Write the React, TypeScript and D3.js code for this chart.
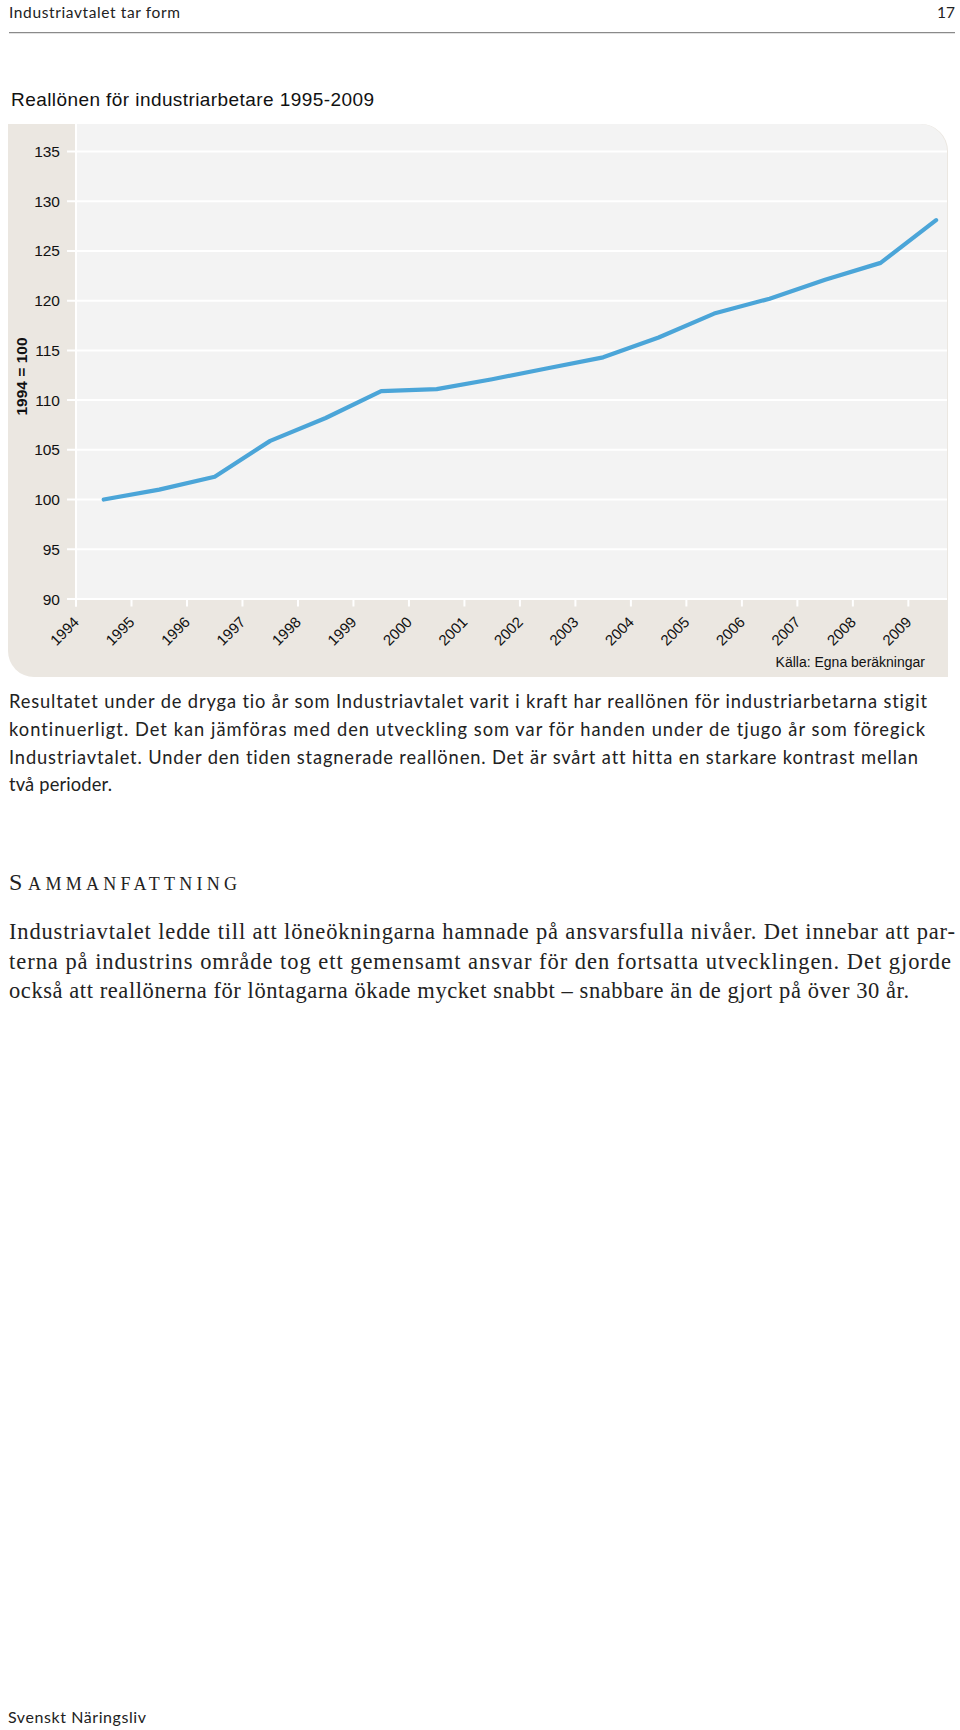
import React from "react";
import * as d3 from "d3";

const years = ["1994","1995","1996","1997","1998","1999","2000","2001","2002","2003","2004","2005","2006","2007","2008","2009"];
const realWage = [100, 101.0, 102.3, 105.9, 108.2, 110.9, 111.1, 112.1, 113.2, 114.3, 116.3, 118.7, 120.2, 122.1, 123.8, 128.1];
const yTicks = [90, 95, 100, 105, 110, 115, 120, 125, 130, 135];

const headerLeft = "Industriavtalet tar form";
const pageNumber = "17";
const chartTitle = "Reallönen för industriarbetare 1995-2009";
const yAxisTitle = "1994 = 100";
const sourceNote = "Källa: Egna beräkningar";
const para1 = [
  "Resultatet under de dryga tio år som Industriavtalet varit i kraft har reallönen för industriarbetarna stigit",
  "kontinuerligt. Det kan jämföras med den utveckling som var för handen under de tjugo år som föregick",
  "Industriavtalet. Under den tiden stagnerade reallönen. Det är svårt att hitta en starkare kontrast mellan",
  "två perioder.",
];
const para1Widths = [918, 916, 909, 103];
const headingFirst = "S";
const headingRest = "ammanfattning";
const para2 = [
  "Industriavtalet ledde till att löneökningarna hamnade på ansvarsfulla nivåer. Det innebar att par-",
  "terna på industrins område tog ett gemensamt ansvar för den fortsatta utvecklingen. Det gjorde",
  "också att reallönerna för löntagarna ökade mycket snabbt – snabbare än de gjort på över 30 år.",
];
const para2Widths = [946, 942, 900];
const footer = "Svenskt Näringsliv";

export default function App() {
  const plotLeft = 76;
  const plotRight = 947;
  const x = d3.scaleBand<string>().domain(years).range([plotLeft, plotLeft + 55.49 * years.length]).paddingInner(0).paddingOuter(0);
  const y = d3.scaleLinear().domain([90, 135]).range([599, 151.5]);
  const line = d3
    .line<number>()
    .x((_, i) => (x(years[i]) as number) + x.bandwidth() / 2)
    .y((d) => y(d));

  const beige = "#ebe7e1";
  const plotGray = "#f3f3f3";
  const axisFont = "'Liberation Sans', Arial, sans-serif";
  const serif = "'Liberation Serif', 'Times New Roman', serif";
  const noLig = { fontVariantLigatures: "none" as const };

  return (
    <svg width={960} height={1730} style={{ position: "absolute", left: 0, top: 0, background: "#fff" }}>
      {/* page header */}
      <text x={9} y={17.5} fontFamily="Lato, sans-serif" fontSize={15.5} fill="#222" textLength={171} style={noLig}>{headerLeft}</text>
      <text x={955} y={17.5} fontFamily="Lato, sans-serif" fontSize={15.5} fill="#222" textAnchor="end">{pageNumber}</text>
      <line x1={9} x2={955} y1={32.7} y2={32.7} stroke="#8a8a8a" strokeWidth={1.3} />

      {/* chart title */}
      <text x={11} y={105.5} fontFamily={axisFont} fontSize={19} fill="#111" textLength={363}>{chartTitle}</text>

      {/* panel */}
      <path d="M8,124 H921 A27,27 0 0 1 948,151 V677 H34 A26,26 0 0 1 8,651 Z" fill={beige} />
      <path d={`M${plotLeft + 1},124 H920 A27,27 0 0 1 ${plotRight},151 V598 H${plotLeft + 1} Z`} fill={plotGray} />

      {/* gridlines */}
      {yTicks.map((t) => (
        <line key={"g" + t} x1={67} x2={plotRight} y1={y(t)} y2={y(t)} stroke="#fff" strokeWidth={2} />
      ))}
      {/* y axis line */}
      <line x1={plotLeft} x2={plotLeft} y1={124} y2={606.5} stroke="#fff" strokeWidth={2} />
      {/* x ticks */}
      {years.map((yr) => (
        <line key={"t" + yr} x1={x(yr) as number} x2={x(yr) as number} y1={599} y2={606.5} stroke="#fff" strokeWidth={2} />
      ))}

      {/* y tick labels */}
      {yTicks.map((t) => (
        <text key={"yl" + t} x={60} y={y(t) + 5.5} textAnchor="end" fontFamily={axisFont} fontSize={15.5} fill="#111">
          {t}
        </text>
      ))}
      <text
        transform="translate(27,376.5) rotate(-90)"
        textAnchor="middle"
        fontFamily={axisFont}
        fontSize={15.5}
        fontWeight="bold"
        fill="#111"
      >
        {yAxisTitle}
      </text>

      {/* x tick labels */}
      {years.map((yr) => (
        <text
          key={"xl" + yr}
          transform={`translate(${(x(yr) as number) + 4},623) rotate(-45)`}
          textAnchor="end"
          fontFamily={axisFont}
          fontSize={15}
          fill="#111"
        >
          {yr}
        </text>
      ))}

      {/* data line */}
      <path d={line(realWage) || ""} fill="none" stroke="#4ba5d8" strokeWidth={4.2} strokeLinejoin="round" strokeLinecap="round" />

      <text x={925} y={667} textAnchor="end" fontFamily={axisFont} fontSize={14} fill="#111">{sourceNote}</text>

      {/* paragraph 1 */}
      {para1.map((l, i) => (
        <text key={"p1" + i} x={9} y={708.3 + i * 27.7} fontFamily="Lato, sans-serif" fontSize={18.3} fill="#222" textLength={para1Widths[i]} style={noLig}>
          {l}
        </text>
      ))}

      {/* heading (small caps) */}
      <text x={9} y={890} fontFamily={serif} fill="#222" textLength={228}>
        <tspan fontSize={24}>{headingFirst}</tspan>
        <tspan fontSize={18} dx={1.5}>{headingRest.toUpperCase()}</tspan>
      </text>

      {/* paragraph 2 */}
      {para2.map((l, i) => (
        <text key={"p2" + i} x={9} y={939.3 + i * 29.5} fontFamily={serif} fontSize={22.5} fill="#222" textLength={para2Widths[i]}>
          {l}
        </text>
      ))}

      {/* footer */}
      <text x={8} y={1723} fontFamily="Lato, sans-serif" fontSize={16} fill="#222" textLength={138}>{footer}</text>
    </svg>
  );
}
